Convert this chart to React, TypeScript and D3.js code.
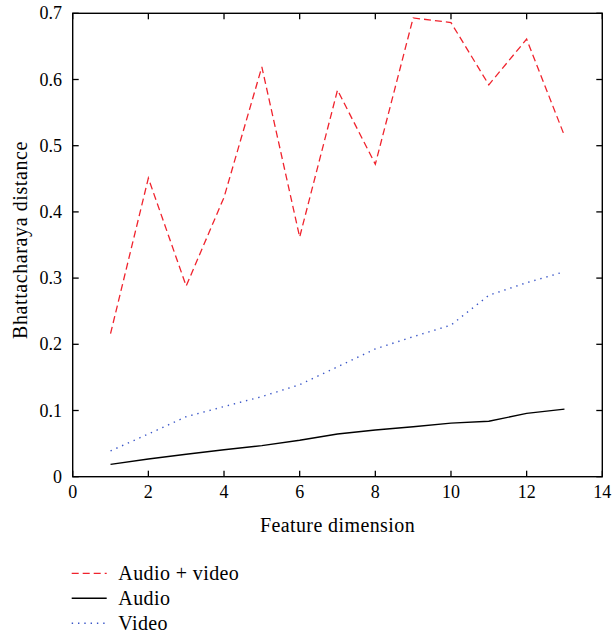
import React from "react";
import * as d3 from "d3";

// Feature dimension (x) and Bhattacharyya distance per modality
const dimensions = [1, 2, 3, 4, 5, 6, 7, 8, 9, 10, 11, 12, 13];
const audioVideo = [0.216, 0.451, 0.288, 0.422, 0.619, 0.362, 0.584, 0.472, 0.693, 0.686, 0.592, 0.661, 0.515];
const audio = [0.0187, 0.0268, 0.034, 0.0408, 0.047, 0.055, 0.0645, 0.0705, 0.0755, 0.081, 0.0837, 0.0957, 0.102];
const video = [0.039, 0.0645, 0.0906, 0.106, 0.121, 0.139, 0.166, 0.193, 0.2115, 0.229, 0.274, 0.293, 0.3097];

const xTicks = [0, 2, 4, 6, 8, 10, 12, 14];
const yTicks = [0, 0.1, 0.2, 0.3, 0.4, 0.5, 0.6, 0.7];

const seriesNames = ["Audio + video", "Audio", "Video"];

const W = 613;
const H = 638;
const left = 72.7;
const right = 602.3;
const top = 13.3;
const bottom = 476.7;
const tickLen = 6;
const font = "'Liberation Serif', 'DejaVu Serif', serif";

export default function App() {
  const x = d3.scaleLinear().domain([0, 14]).range([left, right]);
  const y = d3.scaleLinear().domain([0, 0.7]).range([bottom, top]);

  const line = d3
    .line<[number, number]>()
    .x((d) => x(d[0]))
    .y((d) => y(d[1]));

  const series = [
    { name: seriesNames[0], values: audioVideo, color: "#f0232d", dash: "7,4", width: 1.3 },
    { name: seriesNames[1], values: audio, color: "#000000", dash: undefined, width: 1.4 },
    { name: seriesNames[2], values: video, color: "#3a56c8", dash: "1.4,4.9", width: 1.4 },
  ];

  return (
    <svg
      width={W}
      height={H}
      style={{ position: "absolute", left: 0, top: 0, background: "#fff" }}
      fontFamily={font}
    >
      <rect x={0} y={0} width={W} height={H} fill="#fff" />

      {/* series lines */}
      {series.map((s) => (
        <path
          key={s.name}
          d={line(dimensions.map((d, i) => [d, s.values[i]] as [number, number])) || ""}
          fill="none"
          stroke={s.color}
          strokeWidth={s.width}
          strokeDasharray={s.dash}
        />
      ))}

      {/* frame */}
      <rect
        x={left}
        y={top}
        width={right - left}
        height={bottom - top}
        fill="none"
        stroke="#000"
        strokeWidth={1.4}
      />

      {/* x ticks (bottom and top, pointing inward) */}
      {xTicks.map((t) => (
        <g key={"x" + t}>
          <line x1={x(t)} x2={x(t)} y1={bottom} y2={bottom - tickLen} stroke="#000" strokeWidth={1.3} />
          <line x1={x(t)} x2={x(t)} y1={top} y2={top + tickLen} stroke="#000" strokeWidth={1.3} />
          <text x={x(t)} y={bottom + 21.5} textAnchor="middle" fontSize={18} fill="#000">
            {t}
          </text>
        </g>
      ))}

      {/* y ticks (left and right, pointing inward) */}
      {yTicks.map((t) => (
        <g key={"y" + t}>
          <line x1={left} x2={left + tickLen} y1={y(t)} y2={y(t)} stroke="#000" strokeWidth={1.3} />
          <line x1={right} x2={right - tickLen} y1={y(t)} y2={y(t)} stroke="#000" strokeWidth={1.3} />
          <text x={62} y={y(t) + 6} textAnchor="end" fontSize={18} fill="#000">
            {t === 0 ? "0" : t.toFixed(1)}
          </text>
        </g>
      ))}

      {/* axis titles */}
      <text
        x={(left + right) / 2}
        y={531.5}
        textAnchor="middle"
        fontSize={20}
        letterSpacing={0.4}
        fill="#000"
      >
        Feature dimension
      </text>
      <text
        transform={`translate(26.5,240) rotate(-90)`}
        textAnchor="middle"
        fontSize={20}
        letterSpacing={0.6}
        fill="#000"
      >
        Bhattacharaya distance
      </text>

      {/* legend */}
      {series.map((s, i) => {
        const ly = 573.3 + i * 25;
        return (
          <g key={"lg" + s.name}>
            <line
              x1={71.7}
              x2={106.7}
              y1={ly}
              y2={ly}
              stroke={s.color}
              strokeWidth={s.width}
              strokeDasharray={s.dash}
            />
            <text x={118.3} y={ly + 7} fontSize={20} letterSpacing={0.4} fill="#000">
              {s.name}
            </text>
          </g>
        );
      })}
    </svg>
  );
}
